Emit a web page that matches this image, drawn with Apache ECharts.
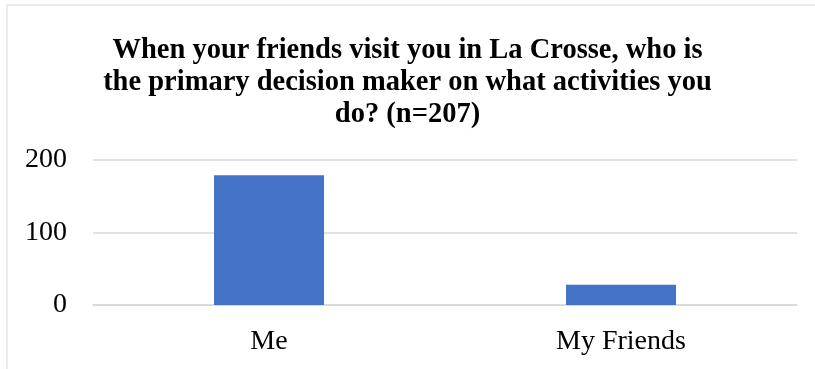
<!DOCTYPE html>
<html>
<head>
<meta charset="utf-8">
<script src="https://cdn.jsdelivr.net/npm/echarts@6/dist/echarts.min.js"></script>
<style>
  html, body { margin: 0; padding: 0; background: #fff; }
  #chart { width: 815px; height: 369px; }
</style>
</head>
<body>
<div id="chart"></div>
<script>
// Survey responses: who decides on activities when friends visit
const categories = ['Me', 'My Friends'];
const responses = [179, 28];
const yTicks = [0, 100, 200];

const serif = '"Liberation Serif", "Times New Roman", serif';

const chart = echarts.init(document.getElementById('chart'), null, { renderer: 'canvas' });

chart.setOption({
  animation: false,
  backgroundColor: '#ffffff',
  graphic: [{
    type: 'rect',
    shape: { x: 7, y: 5, width: 820, height: 380 },
    style: { fill: 'none', stroke: '#d9d9d9', lineWidth: 1 },
    silent: true,
    z: -1
  }],
  title: {
    text: 'When your friends visit you in La Crosse, who is\nthe primary decision maker on what activities you\ndo? (n=207)',
    left: 'center',
    top: 30,
    padding: [5, 5, 5, 12],
    textStyle: {
      fontFamily: serif,
      fontSize: 28.5,
      fontWeight: 'bold',
      color: '#000',
      lineHeight: 32
    }
  },
  grid: {
    left: 93,
    right: 18,
    top: 160,
    bottom: 64,
    containLabel: false
  },
  xAxis: {
    type: 'category',
    data: categories,
    axisLine: { show: true, lineStyle: { color: '#d9d9d9', width: 1.5 } },
    axisTick: { show: false },
    axisLabel: {
      fontFamily: serif,
      fontSize: 28,
      color: '#000',
      margin: 23
    }
  },
  yAxis: {
    type: 'value',
    min: yTicks[0],
    max: yTicks[yTicks.length - 1],
    interval: 100,
    axisLine: { show: false },
    axisTick: { show: false },
    splitLine: { lineStyle: { color: '#d9d9d9', width: 1.5 } },
    axisLabel: {
      fontFamily: serif,
      fontSize: 28,
      color: '#000',
      margin: 26
    }
  },
  series: [{
    type: 'bar',
    data: responses,
    barWidth: 110,
    itemStyle: { color: '#4472c4' }
  }]
});
</script>
</body>
</html>
